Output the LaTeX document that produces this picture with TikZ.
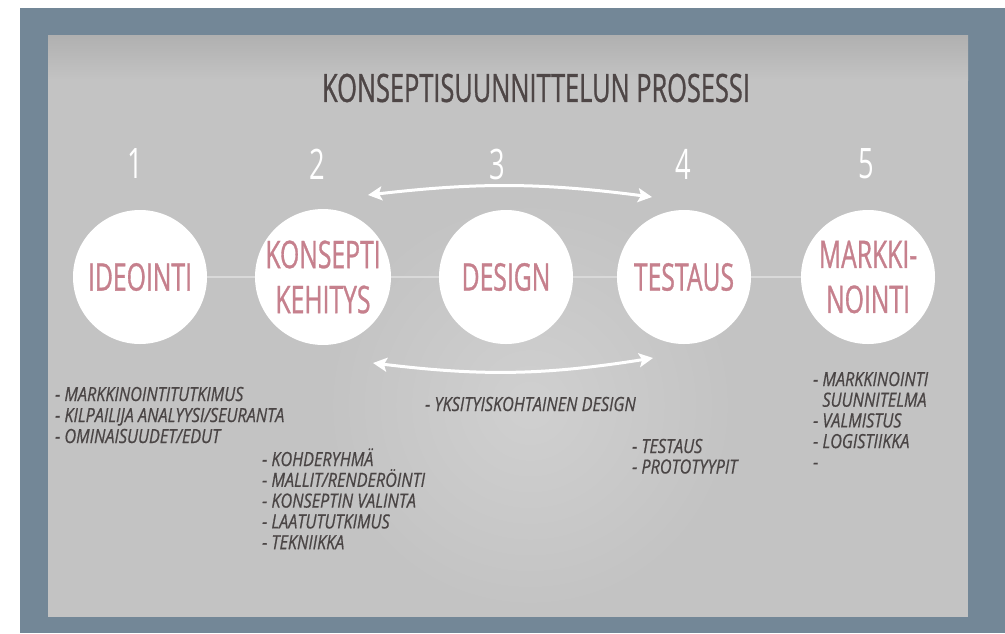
\documentclass[tikz,border=0pt]{standalone}
\usepackage{fontspec}
\setmainfont{Open Sans}
\newfontfamily\condfont{Open Sans}[FakeStretch=0.65, FakeBold=0.8]
\newfontfamily\numfont{Open Sans}[FakeStretch=0.65]
\newfontfamily\itemfont{Open Sans}[FakeStretch=0.83, FakeBold=0.6]
\usetikzlibrary{arrows.meta}

\definecolor{slate}{HTML}{738797}
\definecolor{panel}{HTML}{C3C3C3}
\definecolor{paneldark}{HTML}{B0B0B0}
\definecolor{glow}{HTML}{D0D0D0}
\definecolor{titlegray}{HTML}{4E4646}
\definecolor{rose}{HTML}{C6808D}
\definecolor{itemgray}{HTML}{4A4545}
\definecolor{linkgray}{HTML}{D9D9D9}

\tikzset{
  title/.style={inner sep=0pt, text=titlegray, font=\condfont\fontsize{39}{39}\selectfont},
  stepnum/.style={inner sep=0pt, text=white, font=\numfont\fontsize{42}{42}\selectfont},
  stage/.style={circle, fill=white, minimum size=134pt, inner sep=0pt, align=center,
    text=rose, font=\condfont\fontsize{38}{45}\selectfont},
  item/.style={anchor=west, inner sep=0pt, text height=12pt, text depth=0pt,
    text=itemgray, font=\itemfont\itshape\fontsize{19.5}{20}\selectfont},
  link/.style={draw=linkgray, line width=1.5pt},
  cyclearrow/.style={draw=white, line width=3pt,
    {Stealth[length=14pt,width=14pt,inset=3pt]}-{Stealth[length=14pt,width=14pt,inset=3pt]}}
}

\begin{document}
\begin{tikzpicture}[x=1pt,y=-1pt]
\useasboundingbox (0,0) rectangle (1005,633);
\fill[white] (0,0) rectangle (1005,633);
\fill[slate] (20,8) rectangle (1005,633);
\fill[panel] (48,35) rectangle (968,617);
% soft light in the middle, darker band at the top
\shade[inner color=glow, outer color=panel] (530,405) circle (205);
\shade[top color=paneldark, bottom color=panel] (48,35) rectangle (968,80);

\node[title] (title) at (536,88) {KONSEPTISUUNNITTELUN PROSESSI};

\node[stepnum] (n1) at (135,164) {1};
\node[stepnum] (n2) at (317,164) {2};
\node[stepnum] (n3) at (497,164) {3};
\node[stepnum] (n4) at (683,164) {4};
\node[stepnum] (n5) at (866,164) {5};

\node[stage] (ide) at (140,277) {IDEOINTI};
\node[stage] (kon) at (323,277) {KONSEPTI\\KEHITYS};
\node[stage] (des) at (506,277) {DESIGN};
\node[stage] (tes) at (684,277) {TESTAUS};
\node[stage] (mar) at (868,277) {MARKKI-\\NOINTI};

\path[link] (ide) -- (kon);
\path[link] (kon) -- (des);
\path[link] (des) -- (tes);
\path[link] (tes) -- (mar);

\coordinate (topL) at (368,195);
\coordinate (topR) at (652,197);
\coordinate (botL) at (373,363);
\coordinate (botR) at (653,358);
\path[cyclearrow] (topL) to[bend left=7] (topR);
\path[cyclearrow] (botL) to[bend right=8] (botR);

\foreach \t [count=\i] in {- MARKKINOINTITUTKIMUS, - KILPAILIJA ANALYYSI/SEURANTA, - OMINAISUUDET/EDUT}
  \node[item] (ideitem\i) at (55,{395+21*(\i-1)}) {\t};
\foreach \t [count=\i] in {- KOHDERYHMÄ, - MALLIT/RENDERÖINTI, - KONSEPTIN VALINTA, - LAATUTUTKIMUS, - TEKNIIKKA}
  \node[item] (konitem\i) at (262,{460+20.8*(\i-1)}) {\t};
\node[item] (desitem1) at (425,405) {- YKSITYISKOHTAINEN DESIGN};
\foreach \t [count=\i] in {- TESTAUS, - PROTOTYYPIT}
  \node[item] (tesitem\i) at (632,{447+20.5*(\i-1)}) {\t};
\foreach \t [count=\i] in {- MARKKINOINTI, \hphantom{- }SUUNNITELMA, - VALMISTUS, - LOGISTIIKKA, -}
  \node[item] (maritem\i) at (813,{380+20.7*(\i-1)}) {\t};
\end{tikzpicture}
\end{document}
